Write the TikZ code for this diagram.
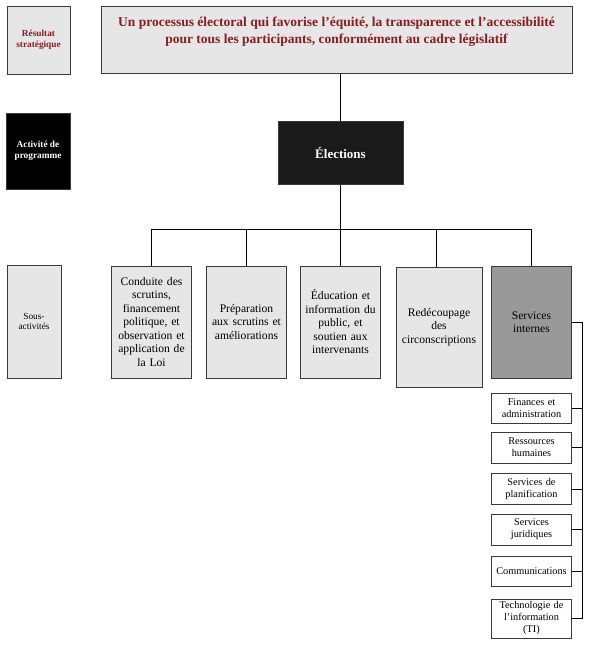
\documentclass[tikz,border=0pt]{standalone}
\usepackage{fontspec}
\setmainfont{Liberation Serif}
\definecolor{boxgrey}{HTML}{E6E6E6}
\definecolor{darkgreyfill}{HTML}{999999}
\definecolor{nearblack}{HTML}{1A1A1A}
\definecolor{darkred}{HTML}{8A1C1C}
\definecolor{edge}{HTML}{3A3A3A}
\tikzset{
  box/.style={draw=edge, line width=1pt, fill=boxgrey, inner sep=2pt, align=center},
  subbox/.style={box, font=\fontsize{11.6}{13.5}\selectfont, text width=76pt},
  smallbox/.style={box, fill=white, font=\fontsize{10.3}{12}\selectfont, text width=76pt, minimum width=79pt},
  conn/.style={draw=black, line width=0.7pt},
}
\begin{document}
\begin{tikzpicture}[x=1pt,y=-1pt]
\useasboundingbox (0,0) rectangle (595,653);
% left column
\node[box, minimum width=63pt, minimum height=68pt, font=\fontsize{9.3}{10.7}\selectfont\bfseries, text=darkred] (res) at (38.5,40) {Résultat\\stratégique};
\node[box, fill=black, draw=edge, minimum width=64pt, minimum height=76pt, font=\fontsize{9.3}{10.7}\selectfont\bfseries, text=white] (act) at (38,151) {Activité de\\programme};
\node[box, minimum width=54pt, minimum height=113pt, font=\fontsize{9.3}{10.7}\selectfont] (sous) at (34,321.5) {Sous-\\activités};
% top
\node[box, minimum width=471pt, minimum height=67pt,
  label={[anchor=north, yshift=-8pt, align=center, text=darkred, font=\fontsize{13.5}{16.5}\selectfont\bfseries]north:{Un processus électoral qui favorise l’équité, la transparence et l’accessibilité\\pour tous les participants, conformément au cadre législatif}}] (top) at (336.5,39.5) {};
\node[box, fill=nearblack, minimum width=125pt, minimum height=63pt, font=\fontsize{13}{15}\selectfont\bfseries, text=white] (elec) at (340.5,152.5) {Élections};
% sub-activities
\node[subbox, minimum width=79pt, minimum height=112pt] (b1) at (151.5,322) {Conduite des\\scrutins,\\financement\\politique, et\\observation et\\application de\\la Loi};
\node[subbox, minimum width=79pt, minimum height=112pt] (b2) at (246.5,322) {Préparation\\aux scrutins et\\améliorations\\[6pt]};
\node[subbox, minimum width=79pt, minimum height=112pt] (b3) at (340.5,322) {Éducation et\\information du\\public, et\\soutien aux\\intervenants};
\node[subbox, text width=82pt, minimum width=84pt, minimum height=120pt] (b4) at (439,327) {Redécoupage\\des\\circonscriptions};
\node[subbox, fill=darkgreyfill, minimum width=79pt, minimum height=112pt] (b5) at (531.5,322) {Services\\internes};
% internal services
\node[smallbox, minimum height=30pt] (s1) at (531.5,408) {Finances et\\administration};
\node[smallbox, minimum height=31pt] (s2) at (531.5,447.5) {Ressources\\humaines};
\node[smallbox, minimum height=31pt] (s3) at (531.5,489) {Services de\\planification};
\node[smallbox, minimum height=31pt] (s4) at (531.5,529.5) {Services\\juridiques};
\node[smallbox, minimum height=30pt] (s5) at (531.5,571) {Communications};
\node[smallbox, minimum height=39pt] (s6) at (531.5,618.5) {Technologie de\\l’information\\(TI)};
% connectors
\coordinate (busL) at (151,229);
\coordinate (busR) at (531,229);
\coordinate (rail) at (582,325);
\draw[conn] (elec.north) -- (elec.north |- top.south);
\draw[conn] (elec.south) -- (elec.south |- busL);
\draw[conn] (busL) -- (busR);
\draw[conn] (b1.north) -- (b1.north |- busL);
\draw[conn] (b2.north) -- (b2.north |- busL);
\draw[conn] (b3.north) -- (b3.north |- busL);
\draw[conn] ([xshift=-3pt]b4.north) -- ([xshift=-3pt]b4.north |- busL);
\draw[conn] (b5.north) -- (b5.north |- busL);
\draw[conn] (b5.east) -- (b5.east -| rail) -- (rail |- s6.east) -- (s6.east);
\foreach \n in {s1,s2,s3,s4,s5}{
  \draw[conn] (\n.east) -- (\n.east -| rail);
}
\end{tikzpicture}
\end{document}
